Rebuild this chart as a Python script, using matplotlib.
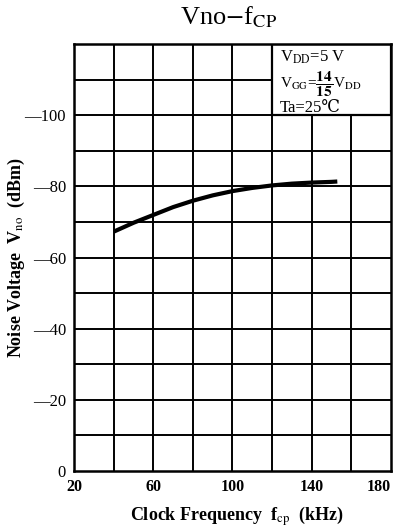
import matplotlib
matplotlib.use("Agg")
import matplotlib.pyplot as plt
from matplotlib.patches import Rectangle

# data
freq_khz = [40, 50, 60, 70, 80, 90, 100, 110, 120, 130, 140, 150, 153]
noise_dbm = [-67.3, -69.8, -72.0, -74.2, -76.0, -77.5, -78.7, -79.6, -80.3, -80.8, -81.1, -81.3, -81.4]
x_ticks = [20, 60, 100, 140, 180]
y_ticks = [0, -20, -40, -60, -80, -100]

plt.rcParams["font.family"] = ["Liberation Serif", "DejaVu Serif"]
plt.rcParams["mathtext.fontset"] = "stix"

fig = plt.figure(figsize=(4.01, 5.27), dpi=100)
ax = fig.add_axes([0.1853, 0.1068, 0.789, 0.809])

ax.set_xlim(20, 180)
ax.set_ylim(0, -120)

# grid
for gx in range(40, 180, 20):
    ax.axvline(gx, color="black", linewidth=1.4, zorder=1)
for gy in range(-10, -120, -10):
    ax.axhline(gy, color="black", linewidth=1.4, zorder=1)

# condition box (covers the grid in the top-right corner)
ax.add_patch(Rectangle((120, -100), 60, -20, facecolor="white",
                       edgecolor="black", linewidth=1.6, zorder=2))
ax.text(124, -116.3, r"V$_{\rm DD}$=5 V", fontsize=12, va="center", zorder=3)
ax.text(124, -108.8, r"V$_{\rm GG}$=$\mathbf{\dfrac{14}{15}}$V$_{\rm DD}$",
        fontsize=11, va="center", zorder=3)
ax.text(124, -102.2, "Ta=25℃", fontsize=12, va="center", zorder=3)

ax.plot(freq_khz, noise_dbm, color="black", linewidth=3, zorder=4,
        solid_capstyle="butt")

for s in ax.spines.values():
    s.set_linewidth(1.8)
    s.set_zorder(5)

ax.set_xticks(x_ticks)
ax.set_xticklabels([str(v) for v in x_ticks], fontsize=11.5, fontweight="bold")
ax.set_yticks(y_ticks)
ax.set_yticklabels(["0" if v == 0 else "\u2014" + str(-v) for v in y_ticks],
                   fontsize=12)
ax.tick_params(length=0, pad=6)
ax.get_xticklabels()[-1].set_horizontalalignment("right")
ax.get_xticklabels()[-1].set_x(178)

ax.set_xlabel(r"Clock Frequency  f$_{\rm cp}$  (kHz)", fontsize=13, fontweight="bold")
ax.xaxis.set_label_coords(0.514, -0.08)
ax.set_ylabel(r"Noise Voltage  V$_{\rm no}$  (dBm)", fontsize=13, fontweight="bold")
ax.yaxis.set_label_coords(-0.15, 0.5)

fig.text(0.57, 0.967, r"Vno$-$f$_{\rm CP}$", fontsize=19, ha="center", va="center")

fig.savefig("out.png", dpi=100, facecolor="white")
